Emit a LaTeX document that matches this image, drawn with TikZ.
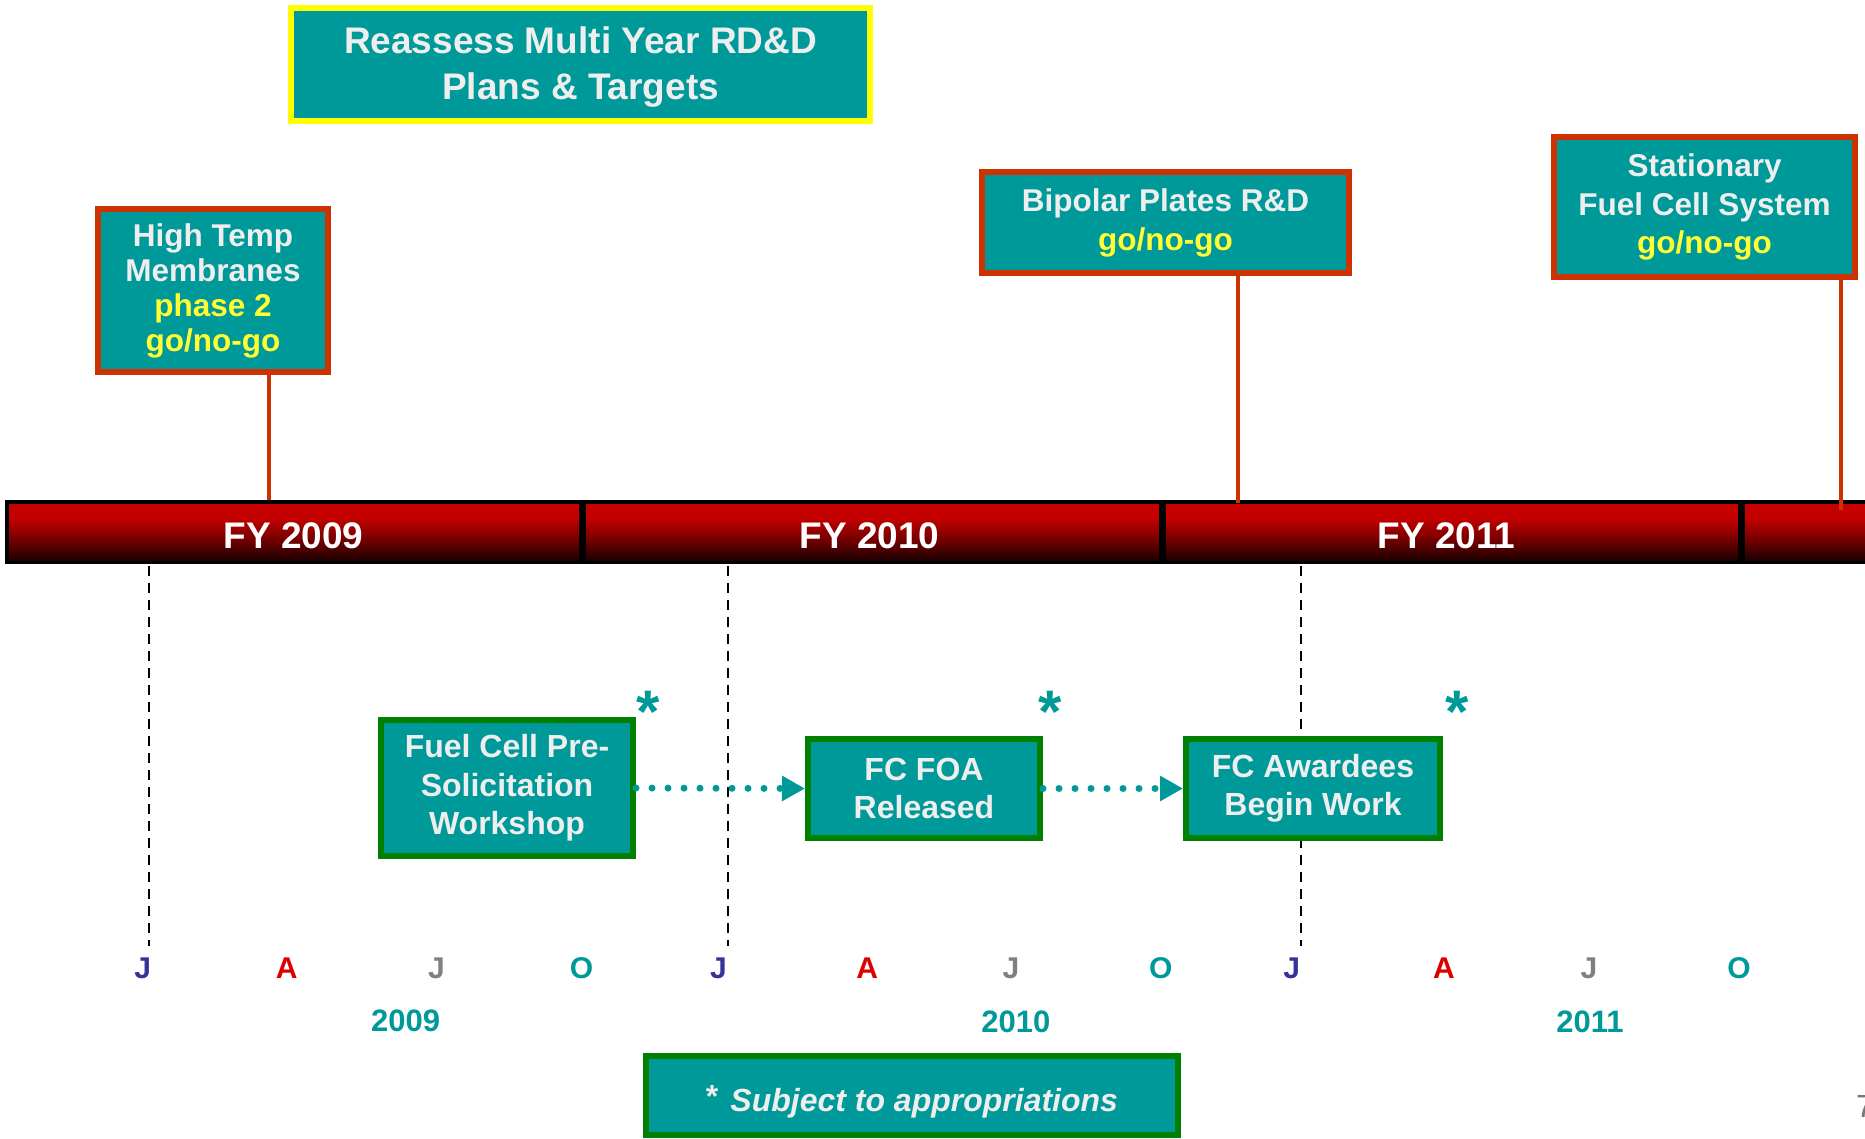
\documentclass[tikz,border=0pt]{standalone}
\usepackage{fontspec}
\setmainfont{Liberation Sans}
\usetikzlibrary{arrows.meta}
\definecolor{tealf}{HTML}{009999}
\definecolor{boxtxt}{HTML}{EEEEEE}
\definecolor{gono}{HTML}{FFFF33}
\definecolor{redb}{HTML}{CC3300}
\definecolor{greenb}{HTML}{008000}
\definecolor{yelb}{HTML}{FFFF00}
\definecolor{mblue}{HTML}{333399}
\definecolor{mred}{HTML}{DD0000}
\definecolor{mgray}{HTML}{808080}
\definecolor{pagenum}{HTML}{777777}
\definecolor{barA}{HTML}{140000}
\definecolor{barB}{HTML}{7A0000}
\definecolor{barC}{HTML}{C40000}
\pgfdeclareverticalshading{barshade}{100bp}{color(0bp)=(barA); color(25bp)=(barA); color(45bp)=(barB); color(62bp)=(barC); color(100bp)=(barC)}
\newcommand\mysz[2]{\fontsize{#1}{#2}\selectfont}
\newcommand\lowerby[2]{\raisebox{-#1}[\height][\depth]{#2}}
\tikzset{
  tbox/.style={draw, fill=tealf, line width=6pt, inner sep=0pt, align=center, text=boxtxt},
  redbox/.style={tbox, draw=redb},
  greenbox/.style={tbox, draw=greenb, font={\mysz{32}{38.5}\bfseries}},
  yellowbox/.style={tbox, draw=yelb, font={\mysz{37}{46}\bfseries}},
  barseg/.style={shade, shading=barshade, draw=black, line width=3.5pt, inner sep=0pt,
                 minimum height=60.5pt, text=white, font={\mysz{37}{40}\bfseries}},
  monthlbl/.style={inner sep=0pt, font={\mysz{30}{32}\bfseries}},
  yearlbl/.style={inner sep=0pt, text=tealf, font={\mysz{31}{33}\bfseries}},
  pinline/.style={draw=redb, line width=4pt},
  guide/.style={draw=black, line width=2.2pt, dash pattern=on 10pt off 7pt},
  flow/.style={draw=tealf, line width=7pt, line cap=round, dash pattern=on 0pt off 16pt,
               -{Triangle[length=23pt,width=24pt,fill=tealf]}},
  starlbl/.style={inner sep=0pt, anchor=base, text=tealf, font={\mysz{60}{60}\bfseries}},
}
\begin{document}
\begin{tikzpicture}[x=1pt,y=-1pt]
\clip (0,0) rectangle (1865,1138);
\fill[white] (0,0) rectangle (1865,1138);

% dashed guide lines
\coordinate (g1t) at (149,566);   \coordinate (g1b) at (149,946);
\coordinate (g2t) at (728.3,566); \coordinate (g2b) at (728.3,946);
\coordinate (g3t) at (1301,566);  \coordinate (g3b) at (1301,946);
\draw[guide] (g1t) -- (g1b);
\draw[guide] (g2t) -- (g2b);
\draw[guide] (g3t) -- (g3b);

% fiscal year bar
\node[barseg, minimum width=573.5pt] (fy09) at (293.5,532) {\lowerby{4pt}{FY 2009}};
\node[barseg, minimum width=576.5pt] (fy10) at (872,532) {\lowerby{4pt}{\hspace*{-5pt}FY 2010}};
\node[barseg, minimum width=575.5pt] (fy11) at (1451.5,532) {\lowerby{4pt}{\hspace*{-10pt}FY 2011}};
\node[barseg, minimum width=157.25pt] (fy12) at (1821.4,532) {};

% top boxes
\node[yellowbox, minimum width=579pt, minimum height=113pt] (title) at (580.5,64.5)
  {\lowerby{2.5pt}{Reassess Multi Year RD\&D}\\\lowerby{2.5pt}{Plans \& Targets}};
\node[redbox, minimum width=230pt, minimum height=163pt, font={\mysz{31.5}{35}\bfseries}] (ht) at (213,290.5)
  {High Temp\\Membranes\\\textcolor{gono}{phase 2}\\\textcolor{gono}{go/no-go}};
\node[redbox, minimum width=367pt, minimum height=101pt, font={\mysz{31.5}{39}\bfseries}] (bp) at (1165.5,222.5)
  {Bipolar Plates R\&D\\\textcolor{gono}{go/no-go}};
\node[redbox, minimum width=301pt, minimum height=140pt, font={\mysz{31.5}{38.7}\bfseries}] (sf) at (1704.5,207)
  {Stationary\\Fuel Cell System\\\textcolor{gono}{go/no-go}};

% pins
\coordinate (htpin) at (268.8,500);
\coordinate (bppin) at (1238.2,503);
\coordinate (sfpin) at (1841.2,510);
\draw[pinline] (ht.south -| htpin) -- (htpin);
\draw[pinline] (bp.south -| bppin) -- (bppin);
\draw[pinline] (sf.south -| sfpin) -- (sfpin);

% process boxes
\node[greenbox, minimum width=252pt, minimum height=136pt] (ws) at (507,788)
  {Fuel Cell Pre-\\Solicitation\\Workshop};
\node[greenbox, minimum width=232pt, minimum height=99pt] (foa) at (924,788.5)
  {FC FOA\\Released};
\node[greenbox, minimum width=254pt, minimum height=99pt] (aw) at (1313,788.5)
  {FC Awardees\\Begin Work};
\draw[flow] (ws.east) -- (foa.west);
\draw[flow] (foa.east) -- (aw.west);

\node[starlbl] (s1) at (648,732) {*};
\node[starlbl] (s2) at (1050,732) {*};
\node[starlbl] (s3) at (1457,732) {*};

% months
\node[monthlbl, text=mblue] (m1) at (142.7,968) {J};
\node[monthlbl, text=mred] (m2) at (286.6,968) {A};
\node[monthlbl, text=mgray] (m3) at (436.5,968) {J};
\node[monthlbl, text=tealf] (m4) at (581.6,968) {O};
\node[monthlbl, text=mblue] (m5) at (718.4,968) {J};
\node[monthlbl, text=mred] (m6) at (867.1,968) {A};
\node[monthlbl, text=mgray] (m7) at (1011,968) {J};
\node[monthlbl, text=tealf] (m8) at (1160.9,968) {O};
\node[monthlbl, text=mblue] (m9) at (1291.7,968) {J};
\node[monthlbl, text=mred] (m10) at (1443.9,968) {A};
\node[monthlbl, text=mgray] (m11) at (1589,968) {J};
\node[monthlbl, text=tealf] (m12) at (1738.9,968) {O};

% years
\node[yearlbl] (y09) at (405.6,1020.5) {2009};
\node[yearlbl] (y10) at (1015.8,1021.7) {2010};
\node[yearlbl] (y11) at (1590,1021.7) {2011};

% footnote
\node[tbox, draw=greenb, minimum width=532pt, minimum height=79pt, font={\mysz{32}{36}\bfseries}] (fn) at (912,1095.5)
  {\lowerby{6pt}{\raisebox{4pt}{*}\hspace{12pt}\itshape Subject to appropriations}};

% page number
\node[inner sep=0pt, anchor=west, text=pagenum, font={\mysz{32}{34}}] (pg) at (1856,1106) {7};
\end{tikzpicture}
\end{document}
